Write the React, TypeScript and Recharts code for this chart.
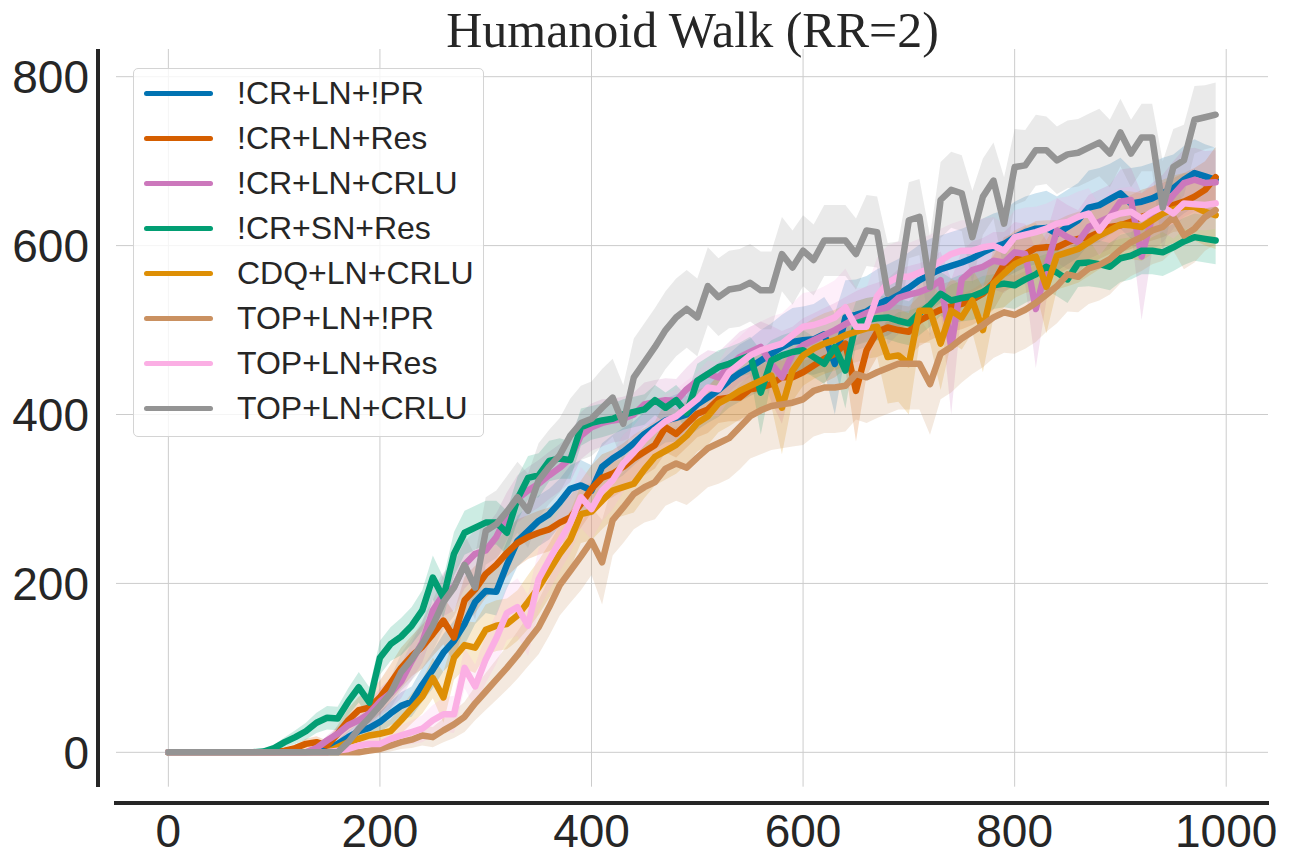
import React from 'react';
import { ComposedChart, Line, Area, XAxis, YAxis, CartesianGrid, Legend } from 'recharts';

const STEPS = [
  0, 10, 20, 30, 40, 50, 60, 70, 80, 90,
  100, 110, 120, 130, 140, 150, 160, 170, 180, 190,
  200, 210, 220, 230, 240, 250, 260, 270, 280, 290,
  300, 310, 320, 330, 340, 350, 360, 370, 380, 390,
  400, 410, 420, 430, 440, 450, 460, 470, 480, 490,
  500, 510, 520, 530, 540, 550, 560, 570, 580, 590,
  600, 610, 620, 630, 640, 650, 660, 670, 680, 690,
  700, 710, 720, 730, 740, 750, 760, 770, 780, 790,
  800, 810, 820, 830, 840, 850, 860, 870, 880, 890,
  900, 910, 920, 930, 940, 950, 960, 970, 980, 990,
];
const X_TICKS = [0, 200, 400, 600, 800, 1000];
const Y_TICKS = [0, 200, 400, 600, 800];
const TITLE = 'Humanoid Walk (RR=2)';
const SERIES_NAMES = ['!CR+LN+!PR', '!CR+LN+Res', '!CR+LN+CRLU', '!CR+SN+Res', 'CDQ+LN+CRLU', 'TOP+LN+!PR', 'TOP+LN+Res', 'TOP+LN+CRLU'];
const SERIES_COLORS = ['#0173b2', '#d55e00', '#cc78bc', '#029e73', '#de8f05', '#ca9161', '#fbafe4', '#949494'];

const CR_LN_NPR = [
  0, 0, 0, 0, 0, 0, 0, 0, 0, 0,
  0, 0, 0, 0, 1, 4, 10, 18, 25, 29,
  36, 46, 55, 60, 80, 98, 118, 132, 152, 178,
  191, 190, 222, 250, 262, 274, 282, 296, 312, 316,
  310, 338, 348, 356, 366, 377, 385, 393, 396, 400,
  412, 420, 429, 440, 449, 456, 464, 472, 480, 486,
  488, 489, 495, 460, 515, 518, 522, 530, 536, 542,
  550, 559, 566, 572, 576, 580, 585, 592, 598, 602,
  610, 616, 620, 621, 614, 622, 630, 645, 648, 655,
  662, 650, 652, 656, 662, 668, 678, 686, 682, 678,
];
const CR_LN_NPR_STD = [
  0, 0, 0, 0, 0, 0, 0, 0, 0, 0, 0, 0, 0, 0, 1,
  3, 5, 7, 9, 10, 12, 14, 16, 18, 20, 22, 22, 24, 25, 26, 26,
  28, 28, 30, 30, 30, 30, 28, 28, 30, 30,
  28, 28, 28, 26, 26, 26, 26, 28, 28, 30,
  30, 32, 32, 34, 34, 36, 36, 38, 40, 40,
  42, 44, 60, 44, 42, 42, 42, 42, 42, 42,
  42, 42, 40, 40, 40, 40, 40, 40, 40, 42,
  42, 42, 44, 44, 44, 44, 44, 44, 42, 42,
  42, 42, 42, 42, 40, 40, 40, 38, 38,
];

const CR_LN_RES = [
  0, 0, 0, 0, 0, 0, 0, 0, 0, 0,
  0, 2, 5, 10, 12, 8, 22, 38, 50, 53,
  65, 82, 100, 114, 125, 140, 156, 136, 180, 193,
  211, 222, 236, 248, 255, 260, 264, 272, 278, 294,
  312, 325, 330, 338, 348, 356, 364, 385, 377, 389,
  401, 406, 418, 420, 420, 430, 432, 436, 444, 444,
  450, 458, 466, 472, 484, 428, 476, 498, 503, 500,
  498, 511, 518, 524, 528, 531, 536, 543, 556, 578,
  583, 590, 597, 598, 598, 604, 608, 610, 616, 622,
  624, 628, 634, 638, 642, 648, 652, 658, 666, 681,
];
const CR_LN_RES_STD = [
  0, 0, 0, 0, 0, 0, 0, 0, 0, 0, 1,
  2, 4, 6, 7, 6, 10, 14, 16, 18, 20,
  22, 24, 24, 26, 26, 28, 30, 28, 28, 28,
  28, 28, 28, 26, 26, 26, 26, 26, 28, 28,
  28, 28, 28, 28, 28, 28, 30, 28, 28, 28,
  28, 28, 28, 28, 28, 28, 28, 28, 28, 28,
  28, 28, 28, 30, 60, 30, 30, 30, 30, 30,
  30, 30, 30, 30, 30, 30, 30, 32, 32, 32,
  32, 32, 32, 32, 32, 32, 32, 32, 32, 32,
  32, 32, 32, 32, 32, 34, 34, 34, 36,
];

const CR_LN_CRLU = [
  0, 0, 0, 0, 0, 0, 0, 0, 0, 0,
  0, 0, 0, 0, 5, 14, 22, 32, 38, 46,
  60, 70, 84, 108, 130, 168, 187, 196, 222, 235,
  239, 255, 280, 300, 310, 318, 328, 337, 348, 375,
  385, 390, 393, 395, 400, 412, 415, 417, 416, 430,
  440, 448, 444, 456, 468, 474, 480, 460, 444, 472,
  482, 488, 494, 500, 507, 514, 520, 524, 527, 538,
  542, 545, 550, 559, 480, 560, 571, 575, 582, 580,
  592, 590, 525, 575, 618, 610, 604, 622, 628, 634,
  652, 654, 587, 634, 644, 660, 674, 678, 674, 675,
];
const CR_LN_CRLU_STD = [
  0, 0, 0, 0, 0, 0, 0, 0, 0, 0, 0, 0, 0, 1,
  3, 6, 8, 10, 12, 14, 16,
  18, 20, 22, 24, 26, 26, 28, 28, 28, 28,
  28, 28, 28, 28, 28, 28, 28, 28, 28, 28,
  28, 26, 26, 26, 26, 26, 26, 26, 26, 28,
  28, 30, 30, 30, 30, 30, 45, 55, 32, 32,
  32, 32, 32, 32, 32, 32, 32, 34, 34, 34,
  34, 34, 34, 80, 34, 34, 34, 34, 36, 36,
  36, 70, 40, 38, 38, 38, 38, 38, 38, 38,
  38, 75, 40, 40, 40, 40, 38, 38, 38,
];

const CR_SN_RES = [
  0, 0, 0, 0, 0, 0, 0, 0, 0, 1,
  5, 12, 18, 25, 35, 41, 40, 60, 77, 59,
  112, 128, 137, 150, 168, 207, 183, 235, 260, 266,
  272, 272, 260, 300, 325, 328, 345, 348, 346, 385,
  390, 393, 395, 400, 403, 406, 417, 408, 417, 402,
  440, 448, 456, 460, 465, 470, 426, 464, 470, 474,
  476, 468, 460, 480, 452, 508, 512, 514, 515, 511,
  508, 520, 530, 543, 535, 538, 540, 545, 553, 555,
  553, 560, 566, 575, 568, 560, 579, 580, 578, 575,
  585, 588, 594, 594, 592, 598, 605, 610, 608, 606,
];
const CR_SN_RES_STD = [
  0, 0, 0, 0, 0, 0, 0, 0, 0, 1,
  4, 6, 8, 10, 12, 14, 14, 16, 18, 18,
  20, 20, 22, 22, 24, 26, 24, 26, 26, 26,
  26, 26, 26, 26, 26, 26, 24, 24, 22, 22,
  20, 20, 18, 18, 18, 18, 18, 18, 18, 20,
  20, 20, 20, 20, 20, 22, 50, 24, 24, 24,
  24, 24, 24, 24, 45, 26, 26, 26, 26, 26,
  26, 26, 26, 26, 26, 28, 28, 28, 28, 28,
  28, 28, 28, 28, 28, 28, 28, 28, 28, 28,
  28, 28, 28, 28, 28, 28, 28, 28, 28, 28,
];

const CDQ_LN_CRLU = [
  0, 0, 0, 0, 0, 0, 0, 0, 0, 0,
  0, 0, 0, 0, 0, 0, 6, 12, 16, 20,
  22, 25, 38, 52, 66, 88, 65, 112, 127, 124,
  145, 150, 152, 162, 178, 195, 215, 235, 252, 282,
  285, 298, 310, 314, 318, 335, 350, 357, 364, 375,
  390, 398, 413, 420, 428, 434, 440, 446, 408, 452,
  470, 478, 484, 488, 494, 498, 502, 504, 468, 470,
  460, 523, 523, 484, 523, 515, 535, 500, 555, 567,
  578, 584, 587, 551, 588, 592, 596, 604, 612, 618,
  625, 624, 622, 630, 638, 643, 646, 646, 640, 636,
];
const CDQ_LN_CRLU_STD = [
  0, 0, 0, 0, 0, 0, 0, 0, 0, 0, 0, 0, 0, 0, 0, 1,
  4, 6, 8, 10, 12, 14, 16, 18, 20, 24,
  30, 26, 28, 30, 30, 30, 30, 30, 32, 32,
  32, 34, 34, 34, 34, 34, 34, 34, 34, 34,
  34, 34, 34, 34, 34, 34, 34, 34, 34, 34,
  36, 36, 55, 36, 36, 36, 36, 36, 36, 36,
  36, 36, 55, 55, 60, 38, 38, 55, 38, 38,
  38, 50, 40, 40, 40, 40, 40, 55, 40, 40,
  40, 40, 40, 40, 40, 40, 40, 40, 40, 40,
  40, 40, 40, 40,
];

const TOP_LN_NPR = [
  0, 0, 0, 0, 0, 0, 0, 0, 0, 0,
  0, 0, 0, 0, 0, 0, 0, 0, 0, 2,
  4, 8, 12, 15, 20, 18, 26, 33, 42, 58,
  72, 86, 100, 115, 132, 148, 172, 198, 215, 232,
  250, 225, 275, 290, 306, 314, 320, 336, 342, 337,
  349, 360, 366, 372, 385, 398, 405, 410, 412, 414,
  418, 428, 432, 432, 434, 448, 444, 450, 455, 460,
  460, 460, 436, 472, 480, 490, 498, 506, 515, 521,
  518, 524, 532, 542, 552, 566, 563, 573, 577, 584,
  595, 604, 610, 618, 622, 634, 612, 620, 634, 642,
];
const TOP_LN_NPR_STD = [
  0, 0, 0, 0, 0, 0, 0, 0, 0, 0, 0, 0, 0, 0, 0, 0, 0, 0, 1,
  3, 5, 7, 8, 10, 12, 12, 14, 16, 18,
  20, 22, 24, 26, 28, 30, 32, 34, 36, 38,
  40, 40, 50, 42, 42, 42, 42, 44, 44, 44,
  44, 46, 46, 48, 48, 50, 50, 52, 52, 52,
  52, 54, 54, 54, 54, 54, 54, 54, 54, 54,
  54, 54, 54, 60, 54, 54, 52, 50, 50, 48,
  48, 46, 46, 46, 44, 44, 44, 42, 42, 42,
  42, 40, 40, 40, 40, 40, 40, 40, 40, 40, 40,
];

const TOP_LN_RES = [
  0, 0, 0, 0, 0, 0, 0, 0, 0, 0,
  0, 0, 0, 0, 0, 0, 2, 4, 8, 10,
  10, 16, 20, 24, 28, 38, 45, 45, 100, 78,
  110, 135, 165, 172, 150, 205, 228, 250, 272, 302,
  288, 310, 322, 342, 355, 370, 382, 392, 398, 408,
  418, 432, 430, 450, 460, 470, 476, 480, 484, 494,
  504, 506, 510, 515, 527, 504, 504, 540, 556, 563,
  563, 568, 573, 582, 590, 594, 594, 598, 600, 594,
  610, 613, 616, 620, 626, 628, 634, 638, 618, 634,
  638, 640, 632, 640, 646, 638, 650, 649, 648, 650,
];
const TOP_LN_RES_STD = [
  0, 0, 0, 0, 0, 0, 0, 0, 0, 0, 0, 0, 0, 0, 0, 1,
  2, 3, 5, 6, 8, 10, 12, 14, 16, 18,
  20, 22, 24, 26, 28, 30, 32, 34, 36, 36,
  36, 36, 36, 36, 36, 36, 34, 34, 32, 32,
  32, 32, 32, 32, 32, 32, 32, 32, 32, 34,
  34, 36, 36, 38, 40, 40, 42, 44, 46, 46,
  46, 46, 44, 42, 40, 40, 40, 38, 36, 36,
  36, 34, 34, 32, 32, 32, 30, 30, 30, 30,
  30, 30, 30, 30, 30, 30, 30, 30, 30, 30,
  30, 30, 30, 30,
];

const TOP_LN_CRLU = [
  0, 0, 0, 0, 0, 0, 0, 0, 0, 0,
  0, 0, 0, 0, 0, 0, 0, 12, 28, 41,
  55, 70, 95, 110, 128, 150, 178, 195, 222, 195,
  262, 270, 285, 302, 286, 322, 338, 352, 375, 390,
  395, 408, 420, 389, 444, 462, 480, 500, 515, 525,
  515, 552, 539, 548, 550, 556, 547, 547, 590, 574,
  594, 583, 606, 606, 606, 590, 618, 616, 543, 550,
  630, 634, 551, 654, 666, 662, 610, 658, 677, 626,
  693, 695, 713, 713, 701, 708, 710, 716, 722, 709,
  734, 709, 728, 728, 645, 693, 701, 749, 752, 755,
];
const TOP_LN_CRLU_STD = [
  0, 0, 0, 0, 0, 0, 0, 0, 0, 0, 0, 0, 0, 0, 0, 0, 1,
  5, 8, 12, 15, 18, 22, 25, 28, 30, 32,
  34, 36, 38, 40, 40, 42, 42, 44, 44, 44,
  44, 44, 44, 44, 46, 46, 46, 46, 46, 46,
  46, 46, 46, 46, 46, 46, 46, 46, 46, 46,
  46, 44, 44, 42, 42, 42, 42, 42, 42, 42,
  42, 60, 55, 45, 45, 60, 45, 45, 45, 55,
  45, 45, 55, 45, 42, 42, 40, 40, 40, 40,
  40, 40, 40, 40, 40, 40, 40, 55, 45, 42,
  40, 38, 38,
];

const SERIES_MEANS = [CR_LN_NPR, CR_LN_RES, CR_LN_CRLU, CR_SN_RES, CDQ_LN_CRLU, TOP_LN_NPR, TOP_LN_RES, TOP_LN_CRLU];
const SERIES_STDS = [CR_LN_NPR_STD, CR_LN_RES_STD, CR_LN_CRLU_STD, CR_SN_RES_STD, CDQ_LN_CRLU_STD, TOP_LN_NPR_STD, TOP_LN_RES_STD, TOP_LN_CRLU_STD];

const rows = STEPS.map((step, i) => {
  const row: Record<string, any> = { step };
  SERIES_MEANS.forEach((mean, k) => {
    const m = mean[i];
    const s = SERIES_STDS[k][i] ?? 0;
    row['m' + k] = m;
    row['b' + k] = [m - s, m + s];
  });
  return row;
});

const SANS = "'Liberation Sans', Arial, Helvetica, sans-serif";
const SERIF = "'Liberation Serif', 'Times New Roman', Times, serif";
const INK = '#262626';

const LegendBox = () => (
  <div
    style={{
      position: 'relative',
      width: 351,
      height: 369,
      boxSizing: 'border-box',
      border: '1.3px solid #d4d4d4',
      borderRadius: 5,
      background: 'rgba(255,255,255,0.8)',
    }}
  >
    {SERIES_NAMES.map((name, i) => (
      <div key={name} style={{ position: 'absolute', left: 0, top: 24.3 + 45 * i - 16, height: 32, width: 351 }}>
        <div
          style={{
            position: 'absolute',
            left: 10,
            top: 13.5,
            width: 68.5,
            height: 5,
            borderRadius: 2.5,
            background: SERIES_COLORS[i],
          }}
        />
        <div
          style={{
            position: 'absolute',
            left: 103,
            top: 0,
            height: 32,
            lineHeight: '32px',
            fontSize: 32,
            fontFamily: SANS,
            color: INK,
            whiteSpace: 'nowrap',
          }}
        >
          {name}
        </div>
      </div>
    ))}
  </div>
);

export default function App() {
  return (
    <div style={{ position: 'absolute', left: 0, top: 0, width: 1296, height: 864, background: '#fff' }}>
      <ComposedChart
        width={1296}
        height={864}
        data={rows}
        margin={{ top: 49, right: 28, bottom: 47.3, left: 86 }}
      >
        <CartesianGrid
          stroke="#cccccc"
          strokeWidth={1}
          horizontalValues={Y_TICKS}
          verticalValues={X_TICKS}
          syncWithTicks={false}
        />
        <XAxis
          dataKey="step"
          type="number"
          domain={[-49.5, 1039.5]}
          allowDataOverflow
          ticks={X_TICKS}
          interval={0}
          axisLine={false}
          tickLine={false}
          tickSize={0}
          tickMargin={28}
          height={30}
          tick={{ fontSize: 46, fill: INK, fontFamily: SANS }}
        />
        <YAxis
          type="number"
          domain={[-40.7, 832.8]}
          allowDataOverflow
          ticks={Y_TICKS}
          interval={0}
          axisLine={false}
          tickLine={false}
          tickSize={0}
          tickMargin={27}
          width={30}
          tick={{ fontSize: 46, fill: INK, fontFamily: SANS }}
        />
        {SERIES_NAMES.map((name, k) => (
          <Area
            key={'band' + k}
            dataKey={'b' + k}
            type="linear"
            stroke="none"
            fill={SERIES_COLORS[k]}
            fillOpacity={0.2}
            isAnimationActive={false}
            legendType="none"
            dot={false}
            activeDot={false}
          />
        ))}
        {SERIES_NAMES.map((name, k) => (
          <Line
            key={'line' + k}
            dataKey={'m' + k}
            name={name}
            type="linear"
            stroke={SERIES_COLORS[k]}
            strokeWidth={6.5}
            strokeLinejoin="round"
            strokeLinecap="round"
            dot={false}
            activeDot={false}
            isAnimationActive={false}
          />
        ))}
        <Legend
          layout="horizontal"
          verticalAlign="middle"
          align="center"
          content={() => <LegendBox />}
          wrapperStyle={{ left: 133, top: 68, width: 351, height: 369, bottom: 'auto', right: 'auto' }}
        />
      </ComposedChart>
      <div
        style={{
          position: 'absolute',
          left: 0,
          width: 1385,
          top: 5,
          textAlign: 'center',
          fontFamily: SERIF,
          fontSize: 50,
          lineHeight: '50px',
          color: INK,
          whiteSpace: 'nowrap',
          pointerEvents: 'none',
        }}
      >
        {TITLE}
      </div>
      <div style={{ position: 'absolute', left: 96.3, top: 49, width: 4, height: 737.7, background: INK }} />
      <div style={{ position: 'absolute', left: 114, top: 800.7, width: 1155.3, height: 4, background: INK }} />
    </div>
  );
}
